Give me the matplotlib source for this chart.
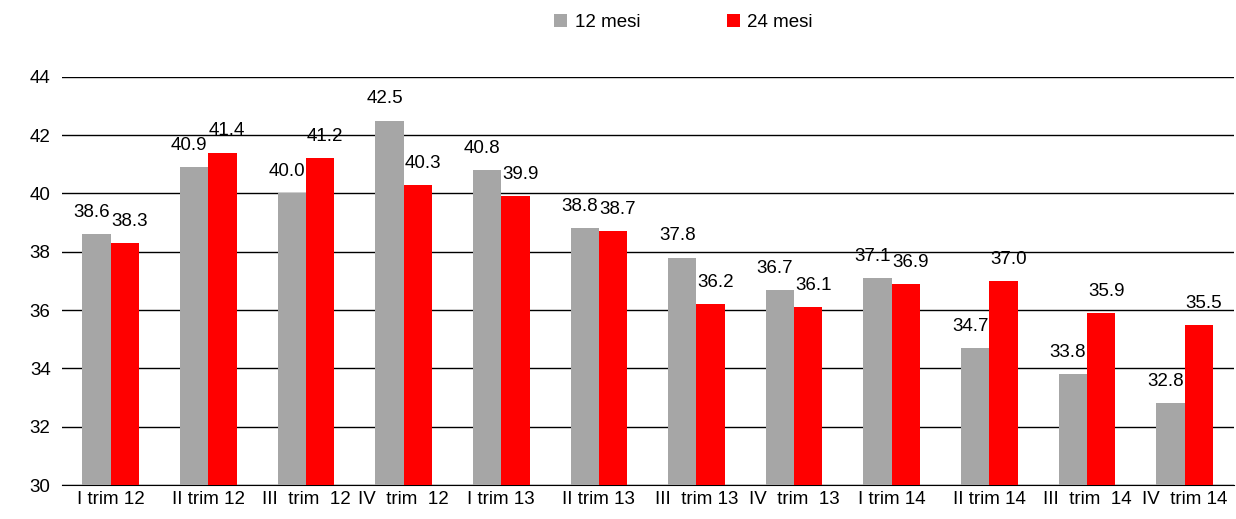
import matplotlib
matplotlib.use("Agg")
import matplotlib.pyplot as plt
import numpy as np

plt.rcParams['font.family'] = ['Liberation Sans', 'DejaVu Sans']

categories = ["I trim 12", "II trim 12", "III  trim  12", "IV  trim  12", "I trim 13", "II trim 13",
              "III  trim 13", "IV  trim  13", "I trim 14", "II trim 14", "III  trim  14", "IV  trim 14"]
m12 = [38.6, 40.9, 40.0, 42.5, 40.8, 38.8, 37.8, 36.7, 37.1, 34.7, 33.8, 32.8]
m24 = [38.3, 41.4, 41.2, 40.3, 39.9, 38.7, 36.2, 36.1, 36.9, 37.0, 35.9, 35.5]

fig = plt.figure(figsize=(12.36, 5.19), dpi=100)
ax = fig.add_axes([0.05, 0.0655, 0.948, 0.7865])
x = np.arange(len(categories))
w = 0.29
ax.bar(x - w/2, m12, w, color='#a6a6a6', label='12 mesi', zorder=3)
ax.bar(x + w/2, m24, w, color='#ff0000', label='24 mesi', zorder=3)
for xi, v in zip(x, m12):
    ax.text(xi - w/2 - 0.05, v + 0.45, f"{v:.1f}", ha='center', va='bottom', fontsize=13.5)
for xi, v in zip(x, m24):
    ax.text(xi + w/2 + 0.05, v + 0.45, f"{v:.1f}", ha='center', va='bottom', fontsize=13.5)

ax.set_xlim(-0.5, len(categories) - 0.5)
ax.set_ylim(30, 44)
ax.set_yticks(range(30, 45, 2))
ax.yaxis.grid(True, color='black', linewidth=1, zorder=0)
ax.set_xticks(x)
ax.set_xticklabels(categories, fontsize=13.5)
ax.tick_params(axis='y', labelsize=13.5, length=0, pad=8)
ax.tick_params(axis='x', length=0, pad=4)
for s in ['top', 'right', 'left']:
    ax.spines[s].set_visible(False)
ax.spines['bottom'].set_color('black')
fig.legend(loc='upper center', bbox_to_anchor=(0.553, 1.005), ncol=2, frameon=False,
           fontsize=13.5, handlelength=0.7, handleheight=0.7, columnspacing=4.6, handletextpad=0.4)
fig.savefig("out.png", dpi=100)
